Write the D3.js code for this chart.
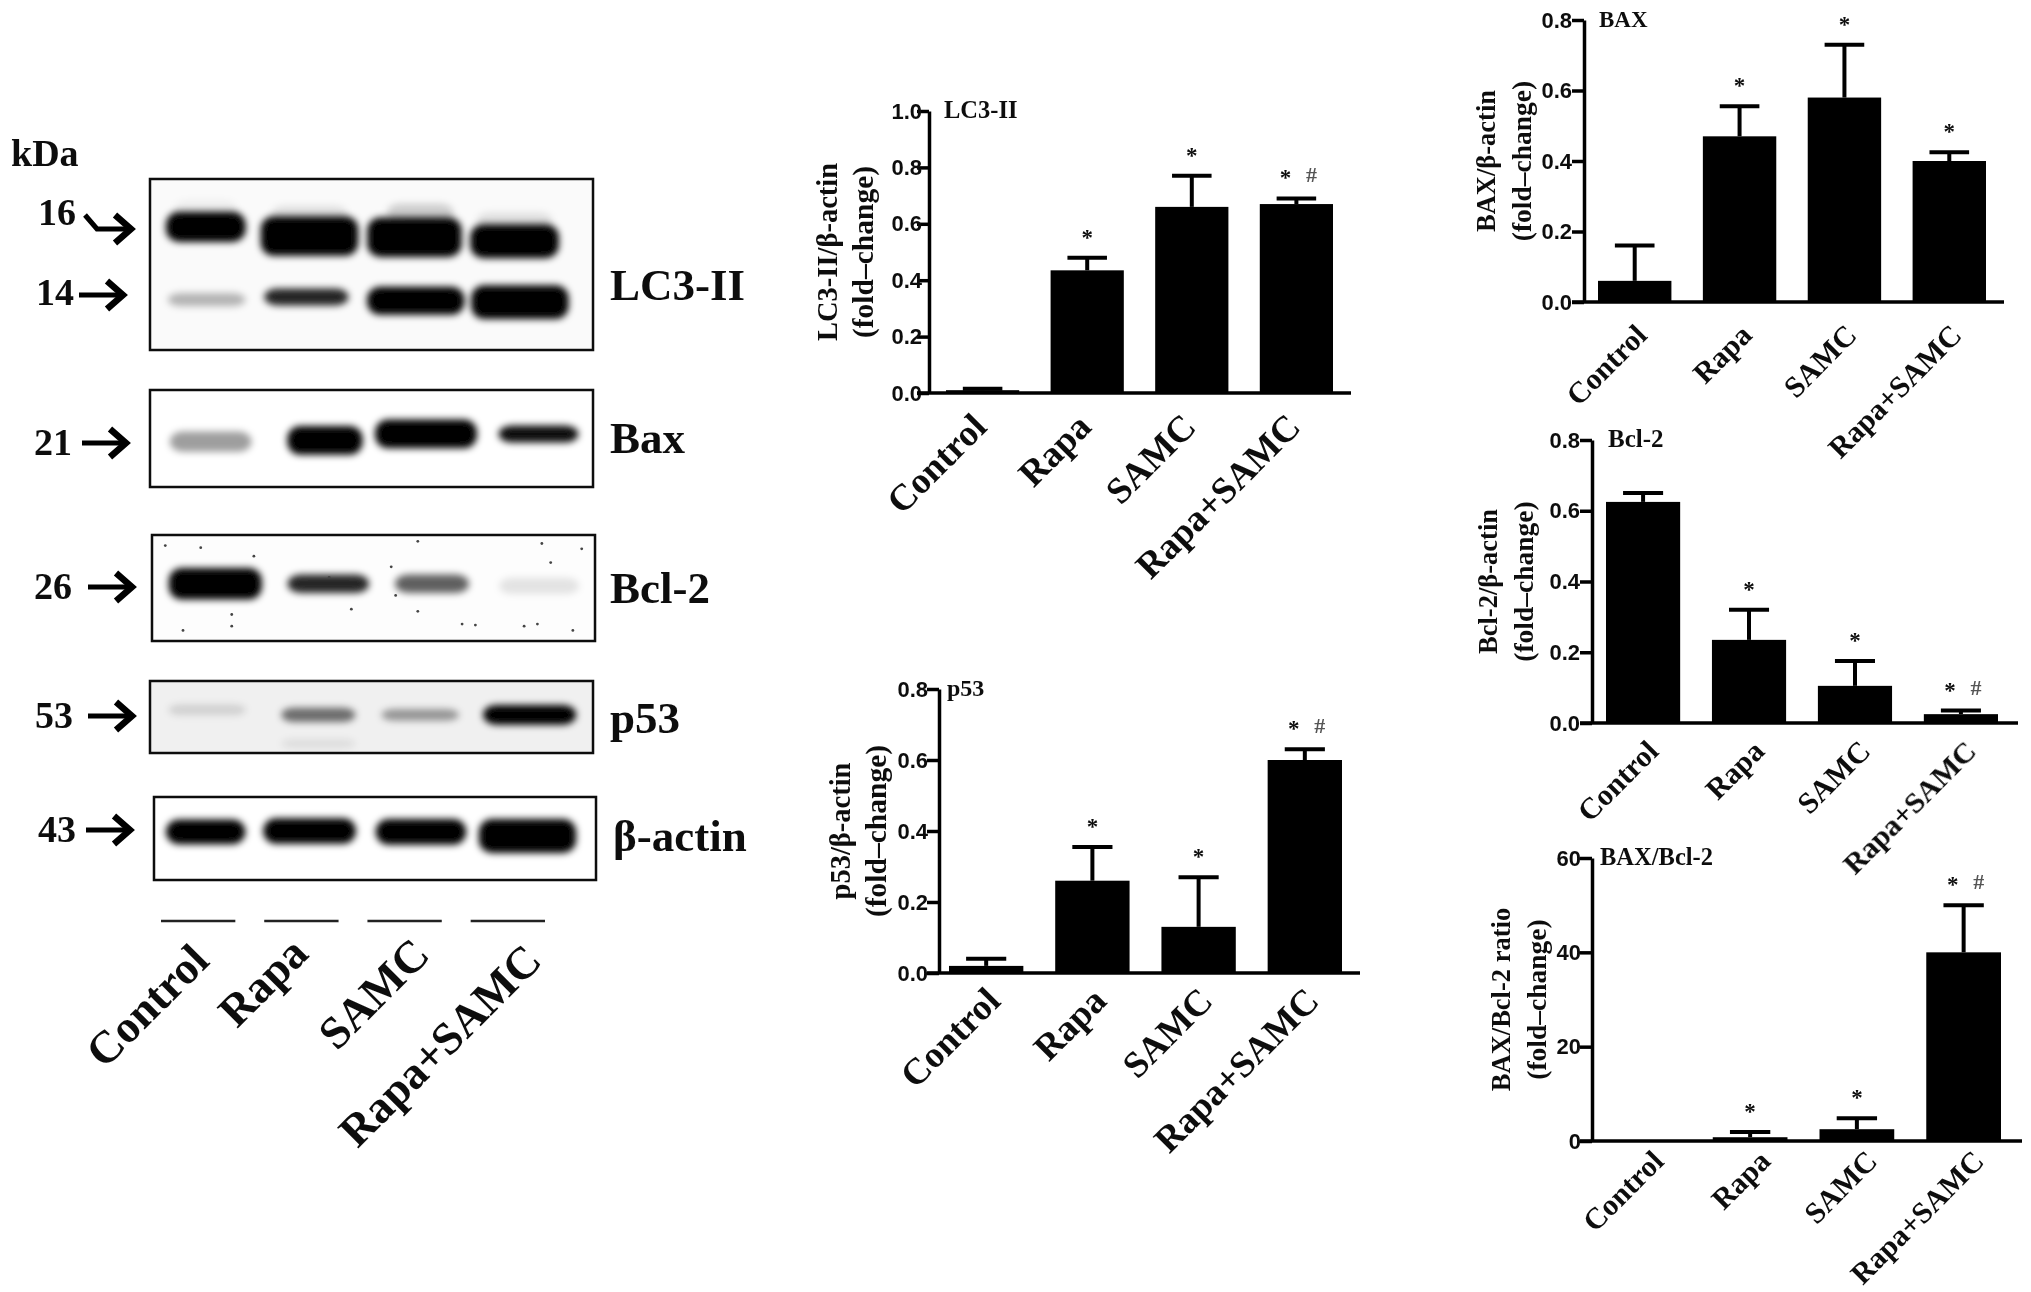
<!DOCTYPE html>
<html>
<head>
<meta charset="utf-8">
<script src="https://d3js.org/d3.v7.min.js"></script>
<style>
  body { margin: 0; background: #fff; }
  text { fill: #111; }
  .serif { font-family: "Liberation Serif", serif; font-weight: bold; }
  .sans { font-family: "Liberation Sans", sans-serif; font-weight: bold; }
</style>
</head>
<body>
<svg id="fig" width="2031" height="1292"></svg>
<script>
// groups
var categories = ["Control", "Rapa", "SAMC", "Rapa+SAMC"];

// bar heights and top of the error bars
var lc3Means = [0.01, 0.435, 0.66, 0.67];
var lc3Tops = [0.015, 0.48, 0.77, 0.69];
var p53Means = [0.02, 0.26, 0.13, 0.6];
var p53Tops = [0.04, 0.355, 0.27, 0.63];
var baxMeans = [0.06, 0.47, 0.58, 0.4];
var baxTops = [0.16, 0.555, 0.73, 0.425];
var bcl2Means = [0.625, 0.235, 0.105, 0.025];
var bcl2Tops = [0.65, 0.32, 0.175, 0.035];
var ratioMeans = [0, 0.8, 2.5, 40];
var ratioTops = [0, 1.9, 4.8, 50];

var lc3Marks = ["", "*", "*", "* #"];
var p53Marks = ["", "*", "*", "* #"];
var baxMarks = ["", "*", "*", "*"];
var bcl2Marks = ["", "*", "*", "* #"];
var ratioMarks = ["", "*", "*", "* #"];

var tickValues08 = [0, 0.2, 0.4, 0.6, 0.8];
var tickValues10 = [0, 0.2, 0.4, 0.6, 0.8, 1.0];
var tickValues60 = [0, 20, 40, 60];

// band darkness per lane on the blots (0 to 1)
var lc3UpperDensity = [1, 1, 1, 1];
var lc3SmearDensity = [0.05, 0.1, 0.18, 0.1];
var lc3LowerDensity = [0.28, 0.85, 1, 1];
var baxDensity = [0.38, 1, 1, 0.95];
var bcl2Density = [1, 0.85, 0.62, 0.1];
var p53Density = [0.13, 0.55, 0.38, 1];
var actinDensity = [1, 1, 1, 1];

var svg = d3.select("#fig");
var defs = svg.append("defs");
defs.append("filter").attr("id", "soft")
  .attr("filterUnits", "userSpaceOnUse")
  .attr("x", 0).attr("y", 0).attr("width", 2031).attr("height", 1292)
  .append("feGaussianBlur").attr("stdDeviation", 0.7);
defs.append("filter").attr("id", "bandBlur")
  .attr("x", "-30%").attr("y", "-80%").attr("width", "160%").attr("height", "260%")
  .append("feGaussianBlur").attr("stdDeviation", 3.6);

var root = svg.append("g").attr("filter", "url(#soft)");

// ---------- bar graphs ----------
function drawGraph(c) {
  var g = root.append("g");
  var x = d3.scaleBand().domain(categories).range([c.barLeft, c.barRight]).paddingInner(0.3);
  var y = d3.scaleLinear().domain([0, c.max]).range([c.baseline, c.top]);

  // error bars go under the bars
  categories.forEach(function(cat, i) {
    if (c.tops[i] <= c.means[i]) return;
    var cx = x(cat) + x.bandwidth() / 2;
    g.append("line").attr("x1", cx).attr("x2", cx)
      .attr("y1", y(c.means[i])).attr("y2", y(c.tops[i]))
      .attr("stroke", "#000").attr("stroke-width", 4);
    g.append("line").attr("x1", cx - x.bandwidth() * 0.27).attr("x2", cx + x.bandwidth() * 0.27)
      .attr("y1", y(c.tops[i])).attr("y2", y(c.tops[i]))
      .attr("stroke", "#000").attr("stroke-width", 4);
  });

  g.selectAll(".bar")
    .data(c.means)
    .enter()
    .append("rect")
    .attr("x", (d, i) => x(categories[i]))
    .attr("width", x.bandwidth())
    .attr("y", d => y(d))
    .attr("height", d => c.baseline - y(d))
    .attr("fill", "#000");

  // y axis
  var yAxis = d3.axisLeft(y).tickValues(c.ticks).tickSize(12).tickPadding(c.tickPad).tickSizeOuter(0)
    .tickFormat(c.max > 1 ? d3.format("d") : d3.format(".1f"));
  var yg = g.append("g").attr("transform", `translate(${c.axisX},0)`).call(yAxis);
  yg.selectAll("path, line").attr("stroke", "#000").attr("stroke-width", 3.5);
  yg.selectAll("text").attr("class", "sans").style("font-size", "22px");

  // x axis
  g.append("line").attr("x1", c.axisX - 12).attr("x2", c.xEnd)
    .attr("y1", c.baseline).attr("y2", c.baseline)
    .attr("stroke", "#000").attr("stroke-width", 3.5);
  var xAxis = d3.axisBottom(x).tickSize(0).tickPadding(0);
  var xg = g.append("g").attr("transform", `translate(0,${c.baseline})`).call(xAxis);
  xg.select(".domain").remove();
  xg.selectAll("text")
    .attr("class", "serif")
    .style("font-size", c.catFont + "px")
    .attr("text-anchor", "end")
    .attr("dy", 0)
    .attr("transform", `translate(${c.catDx},${c.catDy}) rotate(-45)`);

  // significance marks
  c.marks.forEach(function(m, i) {
    if (!m) return;
    var cx = x(categories[i]) + x.bandwidth() / 2;
    var my = y(c.tops[i]) - 13;
    var two = m.length > 1;
    g.append("text").attr("class", "serif").attr("x", two ? cx - 11 : cx).attr("y", my)
      .attr("text-anchor", "middle").style("font-size", "23px").text("*");
    if (two) {
      g.append("text").attr("class", "serif").attr("x", cx + 15).attr("y", my - 3)
        .attr("text-anchor", "middle").style("font-size", "22px").style("fill", "#555").text("#");
    }
  });

  // panel title
  g.append("text").attr("class", "serif").attr("x", c.axisX + c.titleDx).attr("y", c.top + 7)
    .style("font-size", c.titleFont + "px").text(c.title);

  // y label, two lines
  var mid = (c.top + c.baseline) / 2;
  g.append("text").attr("class", "serif")
    .attr("transform", `translate(${c.axisX + c.labelDx},${mid}) rotate(-90)`)
    .attr("text-anchor", "middle").style("font-size", c.labelFont + "px").text(c.label);
  g.append("text").attr("class", "serif")
    .attr("transform", `translate(${c.axisX + c.labelDx + 36},${mid}) rotate(-90)`)
    .attr("text-anchor", "middle").style("font-size", (c.labelFont + 1) + "px").text("(fold\u2013change)");
}

drawGraph({ title: "LC3-II", label: "LC3-II/\u03b2-actin", means: lc3Means, tops: lc3Tops, marks: lc3Marks,
  ticks: tickValues10, max: 1, axisX: 929, top: 111, baseline: 393, barLeft: 946, barRight: 1333, xEnd: 1351,
  tickPad: -5, titleDx: 15, titleFont: 24.5, labelDx: -92, labelFont: 28.5, catFont: 37, catDx: 6, catDy: 36 });
drawGraph({ title: "p53", label: "p53/\u03b2-actin", means: p53Means, tops: p53Tops, marks: p53Marks,
  ticks: tickValues08, max: 0.8, axisX: 939, top: 689, baseline: 973, barLeft: 949, barRight: 1342, xEnd: 1360,
  tickPad: -1, titleDx: 8, titleFont: 24, labelDx: -89, labelFont: 28.5, catFont: 37, catDx: 16, catDy: 30 });
drawGraph({ title: "BAX", label: "BAX/\u03b2-actin", means: baxMeans, tops: baxTops, marks: baxMarks,
  ticks: tickValues08, max: 0.8, axisX: 1584, top: 20, baseline: 302, barLeft: 1598, barRight: 1986, xEnd: 2004,
  tickPad: 0, titleDx: 15, titleFont: 23, labelDx: -89, labelFont: 26.5, catFont: 30, catDx: 14, catDy: 35 });
drawGraph({ title: "Bcl-2", label: "Bcl-2/\u03b2-actin", means: bcl2Means, tops: bcl2Tops, marks: bcl2Marks,
  ticks: tickValues08, max: 0.8, axisX: 1592, top: 440, baseline: 723, barLeft: 1606, barRight: 1998, xEnd: 2018,
  tickPad: 0, titleDx: 16, titleFont: 25, labelDx: -95, labelFont: 26.5, catFont: 30, catDx: 17, catDy: 30 });
drawGraph({ title: "BAX/Bcl-2", label: "BAX/Bcl-2 ratio", means: ratioMeans, tops: ratioTops, marks: ratioMarks,
  ticks: tickValues60, max: 60, axisX: 1592, top: 858, baseline: 1141, barLeft: 1606, barRight: 2001, xEnd: 2022,
  tickPad: -1, titleDx: 8, titleFont: 24.5, labelDx: -82, labelFont: 26.5, catFont: 30, catDx: 22, catDy: 22 });

// ---------- blots ----------
function drawBlot(b) {
  var g = root.append("g");
  var px = d3.scaleLinear().domain([0, 1]).range([b.left, b.right]);
  var py = d3.scaleLinear().domain([0, 1]).range([b.top, b.bottom]);
  var clipId = "clip-" + b.id;
  defs.append("clipPath").attr("id", clipId).append("rect")
    .attr("x", b.left).attr("y", b.top).attr("width", b.right - b.left).attr("height", b.bottom - b.top);
  g.append("rect").attr("x", b.left).attr("y", b.top)
    .attr("width", b.right - b.left).attr("height", b.bottom - b.top)
    .attr("fill", b.bg);

  var inner = g.append("g").attr("clip-path", `url(#${clipId})`);
  b.rows.forEach(function(r) {
    inner.append("g").attr("filter", "url(#bandBlur)")
      .selectAll("rect")
      .data(r.density)
      .enter()
      .append("rect")
      .attr("x", (d, i) => px(r.cx[i] - r.w[i] / 2))
      .attr("width", (d, i) => px(r.w[i]) - px(0))
      .attr("y", (d, i) => py(r.cy[i] - r.h[i] * 0.55))
      .attr("height", (d, i) => py(r.h[i] * 1.1) - py(0))
      .attr("rx", 13)
      .attr("fill", "#000")
      .attr("opacity", d => d);
  });
  (b.specks || []).forEach(function(s) {
    inner.append("circle").attr("cx", px(s[0])).attr("cy", py(s[1])).attr("r", 1.4).attr("fill", "#444");
  });
  g.append("rect").attr("x", b.left).attr("y", b.top)
    .attr("width", b.right - b.left).attr("height", b.bottom - b.top)
    .attr("fill", "none").attr("stroke", "#111").attr("stroke-width", 2.5);

  // name on the right
  g.append("text").attr("class", "serif").attr("x", b.nameX).attr("y", b.nameY)
    .style("font-size", "45px").text(b.name);
}

var bcl2Specks = [[0.03, 0.1], [0.11, 0.12], [0.6, 0.06], [0.88, 0.08], [0.97, 0.13], [0.9, 0.26], [0.54, 0.3],
  [0.55, 0.57], [0.6, 0.72], [0.18, 0.75], [0.45, 0.7], [0.18, 0.86], [0.7, 0.84], [0.73, 0.85],
  [0.87, 0.84], [0.84, 0.86], [0.07, 0.9], [0.23, 0.2], [0.95, 0.9], [0.4, 0.4]];

drawBlot({ id: "lc3", name: "LC3-II", left: 150, right: 593, top: 179, bottom: 350, bg: "#fafafa", nameX: 610, nameY: 300, rows: [
  { density: lc3SmearDensity, cx: [0.126, 0.36, 0.61, 0.823], w: [0.14, 0.17, 0.15, 0.17],
    cy: [0.17, 0.2, 0.2, 0.24], h: [0.08, 0.08, 0.1, 0.08] },
  { density: lc3UpperDensity, cx: [0.126, 0.36, 0.597, 0.823], w: [0.18, 0.22, 0.213, 0.2],
    cy: [0.28, 0.333, 0.34, 0.364], h: [0.16, 0.21, 0.21, 0.18] },
  { density: lc3LowerDensity, cx: [0.128, 0.353, 0.6, 0.835], w: [0.175, 0.19, 0.22, 0.22],
    cy: [0.705, 0.69, 0.712, 0.72], h: [0.07, 0.09, 0.15, 0.18] }
] });
drawBlot({ id: "bax", name: "Bax", left: 150, right: 593, top: 390, bottom: 487, bg: "#fff", nameX: 610, nameY: 453, rows: [
  { density: baxDensity, cx: [0.137, 0.395, 0.623, 0.877], w: [0.184, 0.17, 0.23, 0.18],
    cy: [0.533, 0.52, 0.453, 0.453], h: [0.19, 0.27, 0.27, 0.16] }
] });
drawBlot({ id: "bcl2", name: "Bcl-2", left: 152, right: 595, top: 535, bottom: 641, bg: "#fdfdfd", nameX: 610, nameY: 603, specks: bcl2Specks, rows: [
  { density: bcl2Density, cx: [0.143, 0.398, 0.632, 0.874], w: [0.21, 0.184, 0.167, 0.18],
    cy: [0.46, 0.46, 0.46, 0.48], h: [0.27, 0.16, 0.16, 0.14] }
] });
drawBlot({ id: "p53", name: "p53", left: 150, right: 593, top: 681, bottom: 753, bg: "#f0f0f0", nameX: 610, nameY: 733, rows: [
  { density: p53Density, cx: [0.129, 0.38, 0.61, 0.857], w: [0.175, 0.167, 0.175, 0.21],
    cy: [0.4, 0.47, 0.47, 0.47], h: [0.14, 0.18, 0.15, 0.25] },
  { density: [0.08], cx: [0.38], w: [0.167], cy: [0.87], h: [0.12] }
] });
drawBlot({ id: "actin", name: "\u03b2-actin", left: 154, right: 596, top: 797, bottom: 880, bg: "#fff", nameX: 613, nameY: 851, rows: [
  { density: actinDensity, cx: [0.117, 0.352, 0.604, 0.845], w: [0.18, 0.21, 0.205, 0.22],
    cy: [0.42, 0.41, 0.42, 0.47], h: [0.27, 0.28, 0.28, 0.37] }
] });

// kDa markers
var markerLabels = ["16", "14", "21", "26", "53", "43"];
var markerTextX = [38, 36, 34, 34, 35, 38];
var markerTextY = [225, 305, 455, 599, 728, 842];
var markerArrowX = [81, 73, 76, 82, 82, 80];
var markerArrowY = [229, 295, 443, 587, 716, 830];

root.append("text").attr("class", "serif").attr("x", 11).attr("y", 166)
  .style("font-size", "38px").text("kDa");
markerLabels.forEach(function(m, i) {
  root.append("text").attr("class", "serif").attr("x", markerTextX[i]).attr("y", markerTextY[i])
    .style("font-size", "38px").text(m);
  var ax = markerArrowX[i], ay = markerArrowY[i];
  var a = root.append("g").attr("transform", `translate(${ax},${ay})`)
    .attr("fill", "none").attr("stroke", "#000").attr("stroke-width", 5);
  a.append("path").attr("d", i == 0 ? "M4,-14L16,0L48,0" : "M6,0L48,0");
  a.append("path").attr("d", "M34,-14L50,0L34,14").attr("stroke-width", 6.5);
});

// lane underlines and names
var laneX = d3.scaleBand().domain(categories).range([161, 545]).paddingInner(0.28);
var laneDx = [13, 9, 27, 36];
var laneDy = [963, 956, 957, 963];
var laneG = root.append("g");
laneG.selectAll("line")
  .data(categories)
  .enter()
  .append("line")
  .attr("x1", d => laneX(d))
  .attr("x2", d => laneX(d) + laneX.bandwidth())
  .attr("y1", 921).attr("y2", 921)
  .attr("stroke", "#222").attr("stroke-width", 2.5);
laneG.selectAll("text")
  .data(categories)
  .enter()
  .append("text")
  .attr("class", "serif")
  .attr("text-anchor", "end")
  .style("font-size", "45.5px")
  .attr("transform", (d, i) => `translate(${laneX(d) + laneX.bandwidth() / 2 + laneDx[i]},${laneDy[i]}) rotate(-45)`)
  .text(d => d);
</script>
</body>
</html>
